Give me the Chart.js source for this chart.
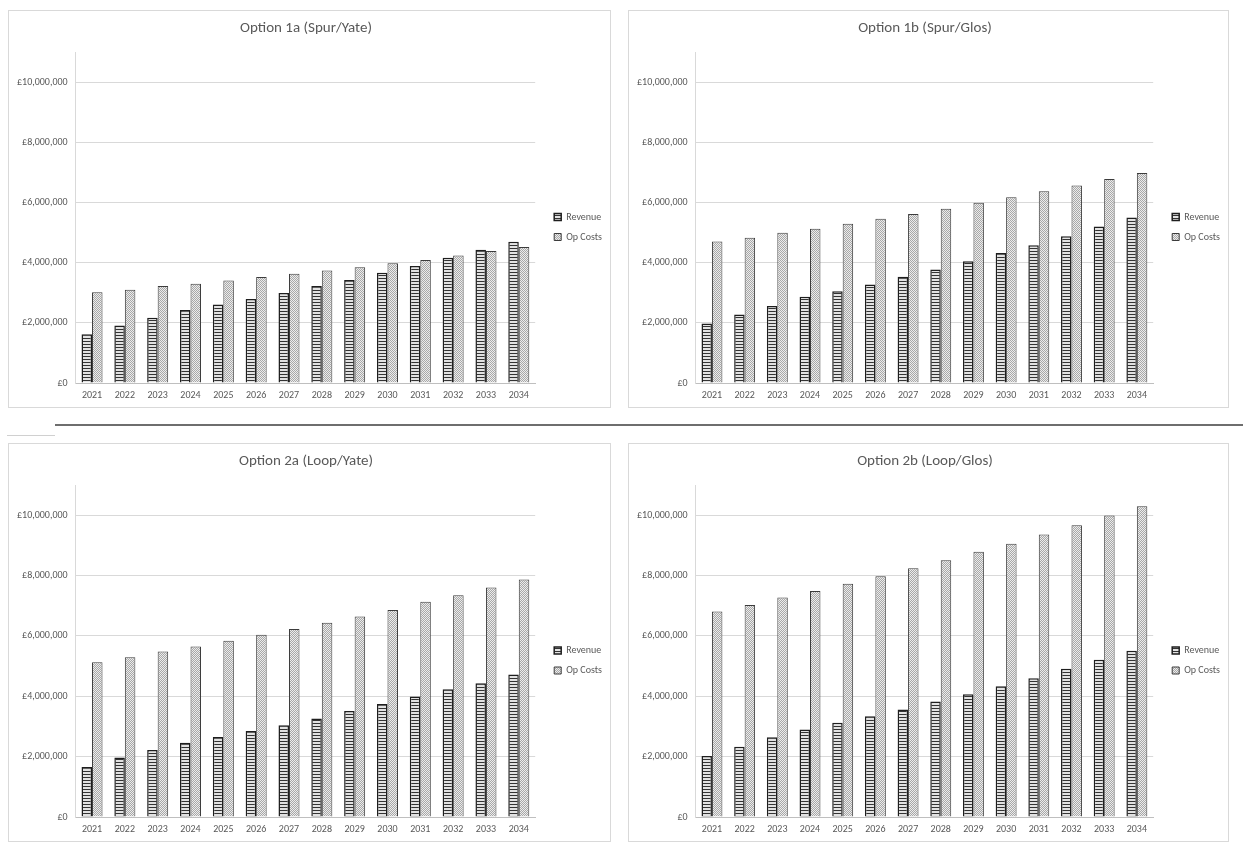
<!DOCTYPE html>
<html>
<head>
<meta charset="utf-8">
<script src="https://cdn.jsdelivr.net/npm/chart.js@4.4.1/dist/chart.umd.min.js"></script>
<style>
  body { margin: 0; background: #fff; width: 1243px; height: 850px; position: relative; overflow: hidden; }
  .panel { position: absolute; border: 1px solid #d9d9d9; box-sizing: border-box; background: #fff; }
  .panel canvas { display: block; }
  .rule { position: absolute; }
</style>
</head>
<body>
<div class="panel" id="p1a" style="left:8px;top:10px;width:603px;height:398px"><canvas id="c1a"></canvas></div>
<div class="panel" id="p1b" style="left:628px;top:10px;width:601px;height:398px"><canvas id="c1b"></canvas></div>
<div class="rule" style="left:55px;top:424px;width:1188px;height:2px;background:#6e6e6e"></div>
<div class="rule" style="left:7px;top:435px;width:48px;height:1px;background:#d0d0d0"></div>
<div class="panel" id="p2a" style="left:8px;top:443px;width:603px;height:399px"><canvas id="c2a"></canvas></div>
<div class="panel" id="p2b" style="left:628px;top:443px;width:601px;height:399px"><canvas id="c2b"></canvas></div>

<script>
// data
const years = ["2021", "2022", "2023", "2024", "2025", "2026", "2027", "2028", "2029", "2030", "2031", "2032", "2033", "2034"];
const seriesNames = ["Revenue", "Op Costs"];
const yTicks = [0, 2000000, 4000000, 6000000, 8000000, 10000000];
const yMax = 11000000;

const rev1a = [1620000, 1910000, 2170000, 2430000, 2610000, 2790000, 2990000, 3220000, 3420000, 3660000, 3890000, 4160000, 4430000, 4690000];
const ops1a = [3020000, 3100000, 3220000, 3300000, 3410000, 3520000, 3630000, 3740000, 3850000, 3980000, 4090000, 4240000, 4390000, 4520000];

const rev1b = [1980000, 2280000, 2560000, 2870000, 3050000, 3270000, 3530000, 3770000, 4050000, 4320000, 4580000, 4880000, 5200000, 5500000];
const ops1b = [4700000, 4830000, 4990000, 5130000, 5290000, 5460000, 5620000, 5790000, 5990000, 6170000, 6370000, 6560000, 6780000, 6980000];

const rev2a = [1660000, 1970000, 2220000, 2460000, 2650000, 2850000, 3040000, 3260000, 3510000, 3740000, 3990000, 4230000, 4430000, 4720000];
const ops2a = [5130000, 5290000, 5480000, 5650000, 5840000, 6040000, 6230000, 6440000, 6640000, 6860000, 7130000, 7350000, 7600000, 7870000];

const rev2b = [2020000, 2330000, 2640000, 2900000, 3120000, 3340000, 3560000, 3830000, 4070000, 4330000, 4600000, 4910000, 5210000, 5510000];
const ops2b = [6810000, 7020000, 7270000, 7490000, 7730000, 7980000, 8240000, 8510000, 8790000, 9050000, 9360000, 9670000, 9990000, 10300000];

// hatch fills, roughly like the old Excel pattern fills
function stripePattern() {
  const c = document.createElement("canvas");
  c.width = 4; c.height = 3;
  const g = c.getContext("2d");
  g.fillStyle = "#e2e2e2"; g.fillRect(0, 0, 4, 3);
  g.fillStyle = "#333333"; g.fillRect(0, 0, 4, 1);
  return g.createPattern(c, "repeat");
}
function dotPattern() {
  const c = document.createElement("canvas");
  c.width = 2; c.height = 2;
  const g = c.getContext("2d");
  g.fillStyle = "#ececec"; g.fillRect(0, 0, 2, 2);
  g.fillStyle = "#a8a8a8"; g.fillRect(0, 0, 1, 1); g.fillRect(1, 1, 1, 1);
  return g.createPattern(c, "repeat");
}

// legend sits a bit lower and further right than chart.js puts it
const legendNudge = {
  id: "legendNudge",
  afterLayout(chart) {
    const l = chart.legend;
    if (!l) return;
    l.left += 9; l.right += 9;
    l.top += 18; l.bottom += 18;
  }
};

const textGrey = "#595959";
const font = "Calibri, Carlito, 'Liberation Sans', Arial, sans-serif";

function makeChart(id, title, rev, ops) {
  const ctx = document.getElementById(id).getContext("2d");
  new Chart(ctx, {
    type: "bar",
    data: {
      labels: years,
      datasets: [
        { label: seriesNames[0], data: rev, backgroundColor: stripePattern(), borderColor: "#1e1e1e", borderWidth: 1.5 },
        { label: seriesNames[1], data: ops, backgroundColor: dotPattern(), borderColor: "#3c3c3c", borderWidth: 1 }
      ]
    },
    plugins: [legendNudge],
    options: {
      responsive: true,
      maintainAspectRatio: false,
      animation: false,
      datasets: { bar: { categoryPercentage: 0.64, barPercentage: 1 } },
      layout: { padding: { left: 0, right: 7, top: 0, bottom: 0 } },
      plugins: {
        title: {
          display: true, text: title, color: textGrey,
          font: { family: font, size: 15, weight: "normal" },
          padding: { top: 8, bottom: 15 }
        },
        legend: {
          position: "right",
          labels: {
            color: textGrey, boxWidth: 7, boxHeight: 7, padding: 10,
            font: { family: font, size: 10 }
          }
        },
        tooltip: { enabled: false }
      },
      scales: {
        x: {
          grid: { display: false, drawTicks: false },
          border: { color: "#bfbfbf" },
          ticks: { color: textGrey, font: { family: font, size: 10, lineHeight: 1 }, padding: 7, maxRotation: 0 }
        },
        y: {
          min: 0, max: yMax,
          afterBuildTicks: axis => { axis.ticks = yTicks.map(v => ({ value: v })); },
          grid: { color: "#d9d9d9", drawTicks: false },
          border: { color: "#d9d9d9" },
          ticks: {
            color: textGrey, font: { family: font, size: 10 }, padding: 8,
            callback: v => "£" + Number(v).toLocaleString("en-GB")
          }
        }
      }
    }
  });
}

makeChart("c1a", "Option 1a (Spur/Yate)", rev1a, ops1a);
makeChart("c1b", "Option 1b (Spur/Glos)", rev1b, ops1b);
makeChart("c2a", "Option 2a (Loop/Yate)", rev2a, ops2a);
makeChart("c2b", "Option 2b (Loop/Glos)", rev2b, ops2b);
</script>
</body>
</html>
